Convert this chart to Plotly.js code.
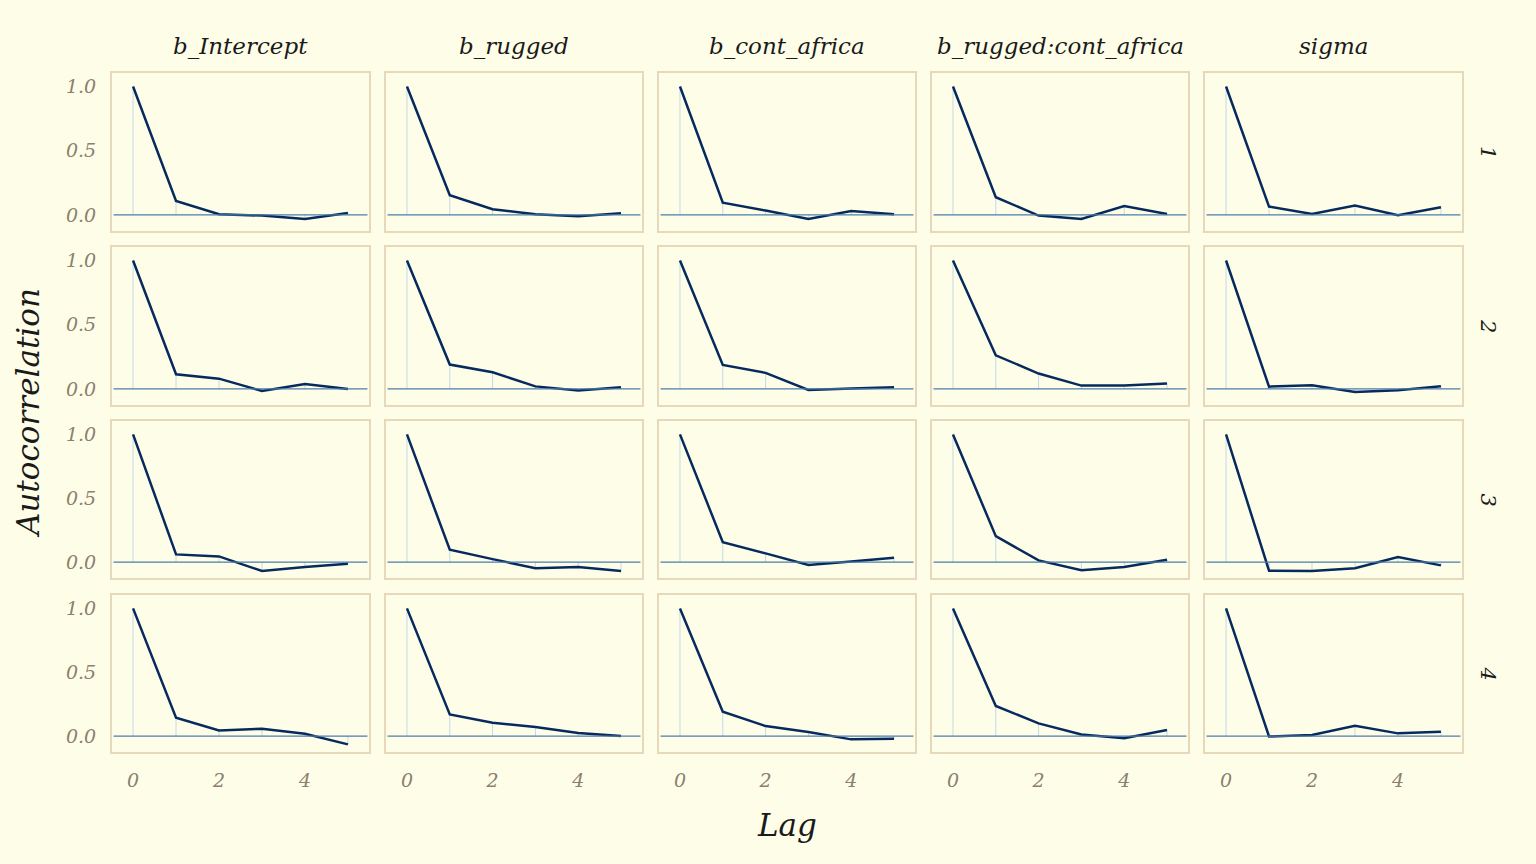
<!DOCTYPE html>
<html>
<head>
<meta charset="utf-8">
<script src="https://cdn.plot.ly/plotly-3.0.1.min.js"></script>
<style>
  html, body { margin: 0; padding: 0; background: #fefee8; }
  #chart { width: 1536px; height: 864px; }
</style>
</head>
<body>
<div id="chart"></div>
<script>
// ---- data ----
const lags = [0, 1, 2, 3, 4, 5];
const params = ["b_Intercept", "b_rugged", "b_cont_africa", "b_rugged:cont_africa", "sigma"];
const chains = ["1", "2", "3", "4"];
const xTickVals = [0, 2, 4];
const yTickVals = [0, 0.5, 1];
const yTickText = ["0.0", "0.5", "1.0"];

// autocorrelation per chain (rows = chains 1..4), lags 0..5
const acf_b_Intercept = [
  [1, 0.109, 0.005, -0.005, -0.031, 0.016],
  [1, 0.114, 0.080, -0.016, 0.039, 0.000],
  [1, 0.060, 0.044, -0.070, -0.039, -0.013],
  [1, 0.143, 0.044, 0.057, 0.018, -0.065]
];
const acf_b_rugged = [
  [1, 0.153, 0.044, 0.005, -0.010, 0.013],
  [1, 0.190, 0.130, 0.020, -0.013, 0.013],
  [1, 0.096, 0.023, -0.049, -0.039, -0.070],
  [1, 0.169, 0.104, 0.070, 0.023, 0.000]
];
const acf_b_cont_africa = [
  [1, 0.096, 0.034, -0.031, 0.031, 0.005],
  [1, 0.187, 0.125, -0.008, 0.003, 0.013],
  [1, 0.156, 0.068, -0.023, 0.005, 0.034],
  [1, 0.190, 0.078, 0.031, -0.026, -0.021]
];
const acf_b_rugged_cont_africa = [
  [1, 0.138, -0.005, -0.031, 0.070, 0.008],
  [1, 0.262, 0.120, 0.026, 0.026, 0.042],
  [1, 0.203, 0.013, -0.065, -0.039, 0.018],
  [1, 0.236, 0.099, 0.013, -0.018, 0.047]
];
const acf_sigma = [
  [1, 0.065, 0.008, 0.073, -0.003, 0.060],
  [1, 0.018, 0.029, -0.023, -0.010, 0.021],
  [1, -0.068, -0.070, -0.049, 0.039, -0.026],
  [1, -0.003, 0.008, 0.080, 0.021, 0.034]
];
const acfByParam = [acf_b_Intercept, acf_b_rugged, acf_b_cont_africa, acf_b_rugged_cont_africa, acf_sigma];

// ---- styling ----
const W = 1536, H = 864;
const BG = "#fefee8";
const FONT = "DejaVu Serif";
const colPx = [[112, 369], [386, 642], [659, 915], [932, 1188], [1205, 1462]];
const rowPx = [[73, 231], [247, 405], [421, 578], [595, 752]];
const xRange = [-0.49, 5.49];
const yRange = [-0.125, 1.105];

const traces = [];
const shapes = [];
const annotations = [];
const layout = {
  width: W, height: H,
  paper_bgcolor: BG, plot_bgcolor: BG,
  margin: {l: 0, r: 0, t: 0, b: 0},
  showlegend: false,
  font: {family: FONT, style: "italic", color: "#8c7f6e"},
};

let idx = 0;
for (let r = 0; r < chains.length; r++) {
  for (let c = 0; c < params.length; c++) {
    idx++;
    const xa = "x" + (idx === 1 ? "" : idx);
    const ya = "y" + (idx === 1 ? "" : idx);
    const vals = acfByParam[c][r];
    // thin segments from 0 to each value
    const sx = [], sy = [];
    lags.forEach((l, i) => { sx.push(l, l, null); sy.push(0, vals[i], null); });
    traces.push({x: sx, y: sy, xaxis: xa, yaxis: ya, type: "scatter", mode: "lines",
      line: {color: "#c3d8ea", width: 1}, hoverinfo: "skip"});
    traces.push({x: lags, y: vals, xaxis: xa, yaxis: ya, type: "scatter", mode: "lines",
      line: {color: "#062a5e", width: 2.5}});
    const axX = {
      domain: [colPx[c][0] / W, colPx[c][1] / W],
      range: xRange, anchor: ya,
      showgrid: false, zeroline: false,
      showline: true, mirror: true, linecolor: "#e6d8b9", linewidth: 2,
      ticks: "", tickvals: xTickVals,
      showticklabels: r === chains.length - 1,
      tickfont: {family: FONT, style: "italic", size: 19, color: "#8c7f6e"},
      ticklabelstandoff: 10,
    };
    const axY = {
      domain: [1 - rowPx[r][1] / H, 1 - rowPx[r][0] / H],
      range: yRange, anchor: xa,
      showgrid: false, zeroline: false,
      showline: true, mirror: true, linecolor: "#e6d8b9", linewidth: 2,
      ticks: "", tickvals: yTickVals, ticktext: yTickText,
      showticklabels: c === 0,
      tickfont: {family: FONT, style: "italic", size: 19, color: "#8c7f6e"},
      ticklabelstandoff: 10,
    };
    layout["xaxis" + (idx === 1 ? "" : idx)] = axX;
    layout["yaxis" + (idx === 1 ? "" : idx)] = axY;
    shapes.push({type: "line", xref: xa + " domain", yref: ya, x0: 0.006, x1: 0.994, y0: 0, y1: 0,
      line: {color: "#4a7ca8", width: 1.2}, layer: "above"});
  }
}

// column strip labels
params.forEach((p, c) => {
  annotations.push({text: p, xref: "paper", yref: "paper",
    x: (colPx[c][0] + colPx[c][1]) / 2 / W, y: 1 - 46 / H,
    showarrow: false, xanchor: "center", yanchor: "middle",
    font: {family: FONT, style: "italic", size: 23, color: "#1a1a1a"}});
});
// row strip labels
chains.forEach((ch, r) => {
  annotations.push({text: ch, xref: "paper", yref: "paper",
    x: 1488 / W, y: 1 - (rowPx[r][0] + rowPx[r][1]) / 2 / H,
    showarrow: false, xanchor: "center", yanchor: "middle", textangle: 90,
    font: {family: FONT, style: "italic", size: 21, color: "#1a1a1a"}});
});
// axis titles
annotations.push({text: "Lag", xref: "paper", yref: "paper", x: 787 / W, y: 1 - 825 / H,
  showarrow: false, xanchor: "center", yanchor: "middle",
  font: {family: FONT, style: "italic", size: 31, color: "#1a1a1a"}});
annotations.push({text: "Autocorrelation", xref: "paper", yref: "paper", x: 28 / W, y: 1 - 413 / H,
  showarrow: false, xanchor: "center", yanchor: "middle", textangle: -90,
  font: {family: FONT, style: "italic", size: 31, color: "#1a1a1a"}});

layout.shapes = shapes;
layout.annotations = annotations;

Plotly.newPlot("chart", traces, layout, {displayModeBar: false, staticPlot: true});
</script>
</body>
</html>
